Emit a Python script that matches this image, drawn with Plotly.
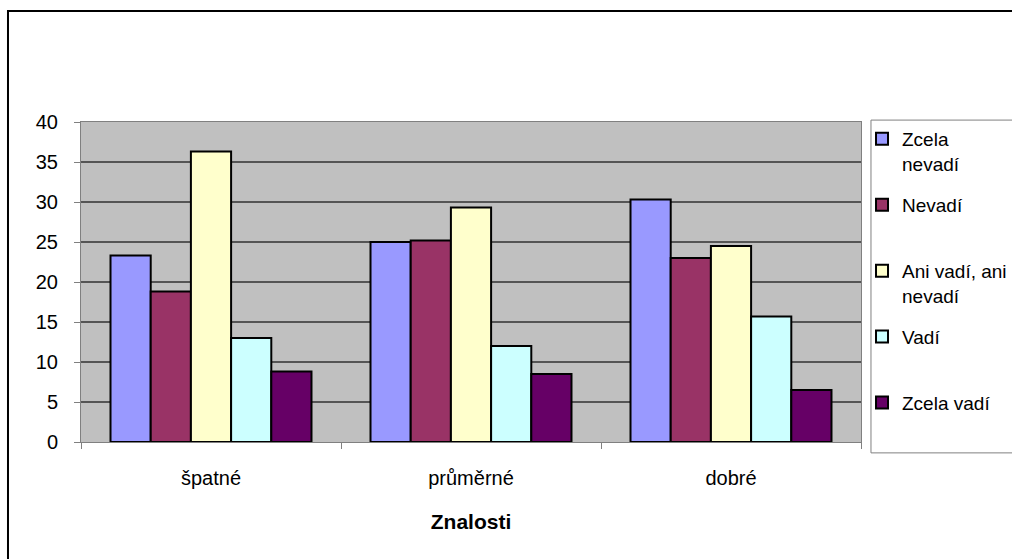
import plotly.graph_objects as go

categories = ["špatné", "průměrné", "dobré"]
series_names = ["Zcela<br>nevadí", "Nevadí<br>\u00a0", "Ani vadí, ani<br>nevadí",
                "Vadí<br>\u00a0", "Zcela vadí<br>\u00a0"]
zcela_nevadi = [23.3, 25.0, 30.3]
nevadi = [18.8, 25.2, 23.0]
ani_vadi_ani_nevadi = [36.3, 29.3, 24.5]
vadi = [13.0, 12.0, 15.7]
zcela_vadi = [8.8, 8.5, 6.5]
colors = ["#9999ff", "#993366", "#ffffcc", "#ccffff", "#660066"]

values = [zcela_nevadi, nevadi, ani_vadi_ani_nevadi, vadi, zcela_vadi]

fig = go.Figure()
for i in range(len(series_names)):
    fig.add_trace(go.Bar(x=categories,
                         y=values[i],
                         name=series_names[i],
                         legendgroup=str(i),
                         marker=dict(color=colors[i],
                                     line=dict(color="black", width=2)),
                         hoverinfo="none"
                         ))

# outer chart border
fig.add_shape(type="rect", xref="paper", yref="paper",
              x0=-0.0936, x1=1.4, y0=-0.6, y1=1.347,
              line=dict(color="black", width=2), layer="below")
# legend frame (drawn by hand so the legend items can sit closer to it)
fig.add_shape(type="rect", xref="paper", yref="paper",
              x0=1.0128, x1=1.3, y0=-0.034, y1=1.006,
              line=dict(color="#808080", width=1), layer="below")

fig.update_layout(width=1012, height=559,
                  margin=dict(l=81, r=151, t=122, b=117, autoexpand=False),
                  paper_bgcolor="white",
                  plot_bgcolor="#c0c0c0",
                  font=dict(family="Liberation Sans, Arial", size=20, color="black"),
                  barmode="group",
                  bargap=0.227,
                  bargroupgap=0,
                  legend=dict(x=1.0013, y=1.0063, xanchor="left", yanchor="top",
                              borderwidth=0, bgcolor="rgba(0,0,0,0)",
                              font=dict(size=19),
                              valign="top",
                              traceorder="grouped",
                              tracegroupgap=13.5,
                              itemwidth=30,
                              maxheight=600),
                  xaxis=dict(showline=True, linecolor="#808080", linewidth=1, mirror=True,
                             ticks="outside", tickson="boundaries", ticklen=6,
                             tickcolor="#808080", ticklabelstandoff=18,
                             title=dict(text="<b>Znalosti</b>", standoff=26,
                                        font=dict(size=21))),
                  yaxis=dict(range=[0, 40], dtick=5, showline=True, linecolor="#808080",
                             linewidth=1, mirror=True, ticks="outside", ticklen=6,
                             tickcolor="#808080", gridcolor="#555555", gridwidth=1.5,
                             zeroline=False, ticklabelstandoff=12),
                  showlegend=True)

# drop the default page margin so the figure fills the window exactly
fig.write_html("out.html",
               config={"displayModeBar": False},
               post_script="document.body.style.margin='0';document.body.style.overflow='hidden';")
